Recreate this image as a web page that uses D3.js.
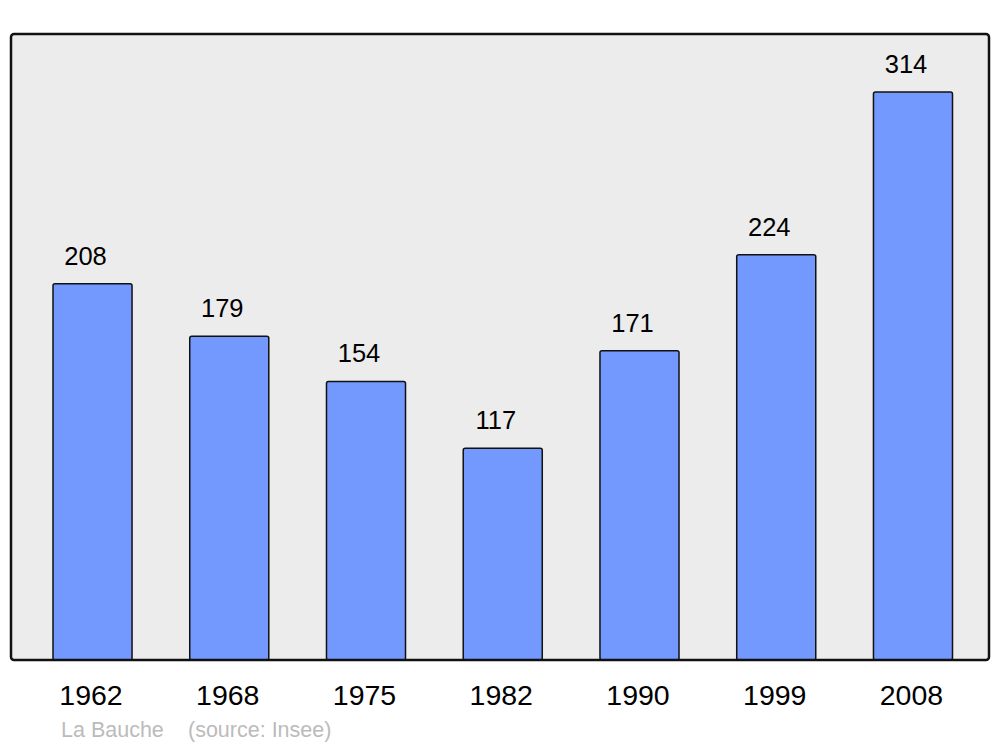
<!DOCTYPE html>
<html><head><meta charset="utf-8">
<script src="https://cdn.jsdelivr.net/npm/d3@7"></script>
<style>body{margin:0;background:#fff}svg{display:block}</style>
</head><body>
<svg id="c" width="1000" height="747"></svg>
<script>
const years = ["1962","1968","1975","1982","1990","1999","2008"];
const population = [208,179,154,117,171,224,314];
const placeName = "La Bauche";
const sourceText = "(source: Insee)";

const svg = d3.select("#c");
const font = "Liberation Sans, Arial, sans-serif";
const x = d3.scaleBand().domain(years).range([53, 952.5]).paddingInner(0.422).paddingOuter(0);
const y = d3.scaleLinear().domain([0, 314]).range([660, 92]);

svg.append("rect").attr("x",11).attr("y",34).attr("width",978).attr("height",626)
  .attr("rx",3).attr("fill","#ececec");

svg.selectAll("rect.bar").data(population).join("rect").attr("class","bar")
  .attr("x",(d,i)=>x(years[i])).attr("y",d=>y(d))
  .attr("width",x.bandwidth()).attr("height",d=>y(0)-y(d))
  .attr("rx",2).attr("fill","#7399ff").attr("stroke","#111").attr("stroke-width",1.5);

svg.selectAll("text.val").data(population).join("text").attr("class","val")
  .attr("x",(d,i)=>x(years[i])+x.bandwidth()/2-7).attr("y",d=>y(d)-19)
  .attr("text-anchor","middle").attr("font-family",font).attr("font-size",25.5)
  .attr("fill","#000").text(d=>d);

svg.append("rect").attr("x",11).attr("y",34).attr("width",978).attr("height",626)
  .attr("rx",3).attr("fill","none").attr("stroke","#111").attr("stroke-width",2.5);

svg.selectAll("text.yr").data(years).join("text").attr("class","yr")
  .attr("x",d=>x(d)+x.bandwidth()/2-1.5).attr("y",705)
  .attr("text-anchor","middle").attr("font-family",font).attr("font-size",28.5)
  .attr("fill","#000").text(d=>d);

svg.append("text").attr("x",61).attr("y",737).attr("font-family",font).attr("font-size",21.5)
  .attr("fill","#bbb").text(placeName);
svg.append("text").attr("x",188).attr("y",737).attr("font-family",font).attr("font-size",21.5)
  .attr("fill","#bbb").text(sourceText);
</script>
</body></html>
